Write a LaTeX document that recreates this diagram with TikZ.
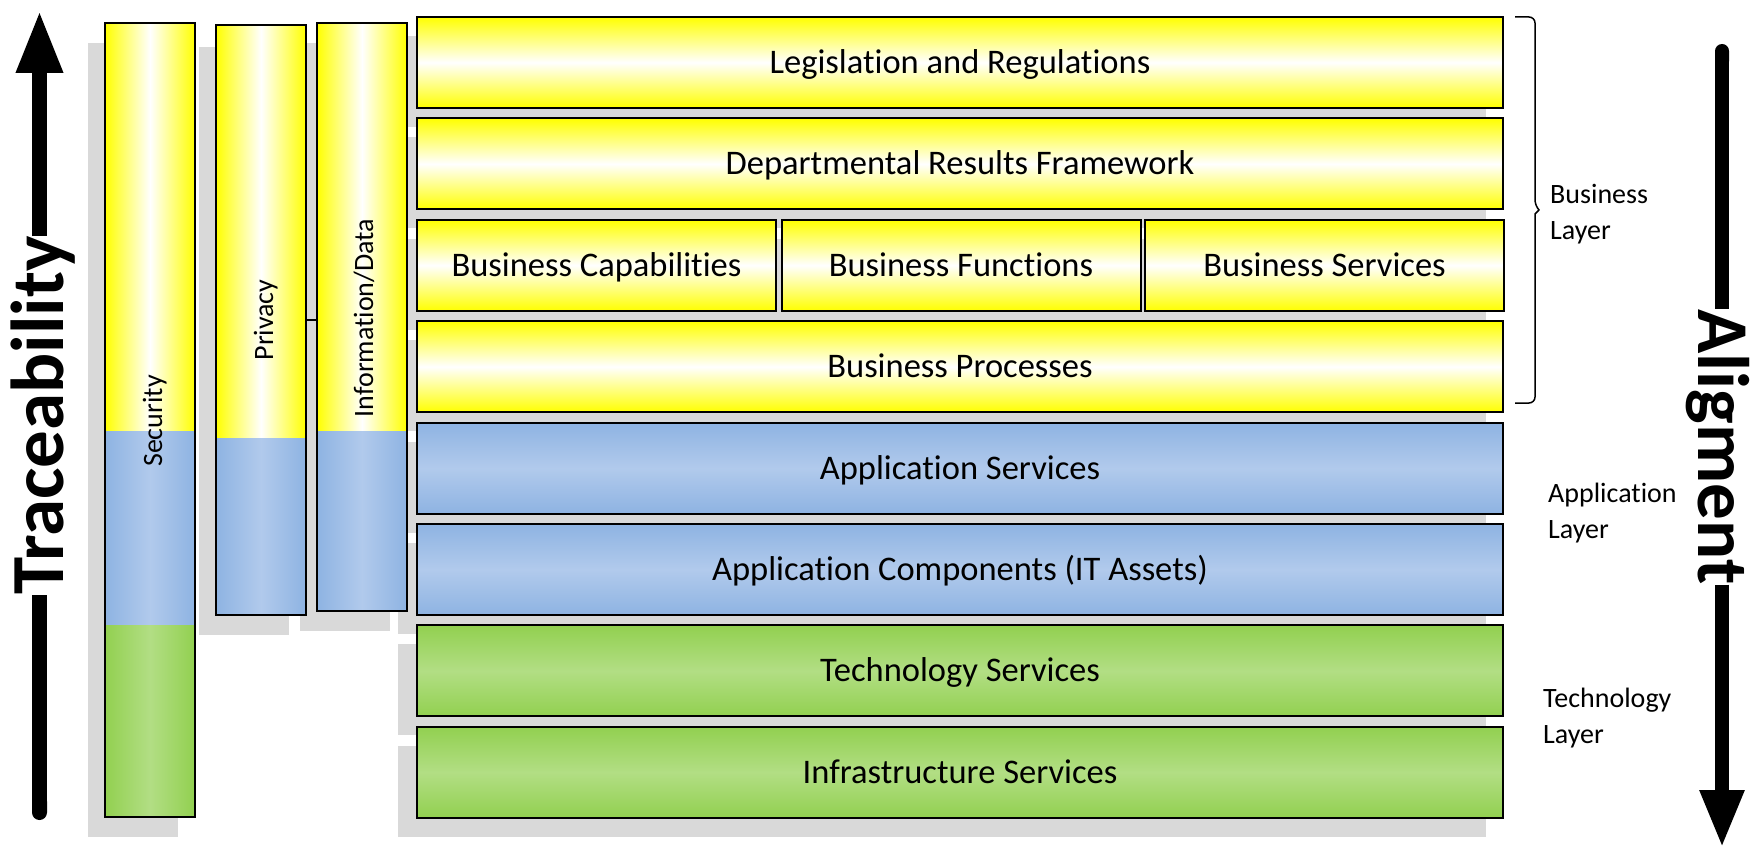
\documentclass[tikz,border=0pt]{standalone}
\usepackage{fontspec}
\setmainfont{Carlito}[Ligatures={NoCommon,NoContextual,NoRequired}, RawFeature={-liga;-clig;-calt;-dlig}]
\usetikzlibrary{arrows.meta}
\definecolor{ylw}{HTML}{FFFF00}
\definecolor{blE}{HTML}{8EB3E2}
\definecolor{blM}{HTML}{B1CAEC}
\definecolor{grE}{HTML}{92D050}
\definecolor{grM}{HTML}{B2DE84}
\definecolor{shd}{HTML}{D9D9D9}
\tikzset{
  shadowfill/.style={fill=shd},
  mainbox/.style={draw=black, line width=2pt, minimum height=91pt, inner sep=0pt,
    text height=22pt, text depth=0pt, font=\fontsize{34.5}{40}\selectfont},
  ybox/.style={mainbox, top color=ylw, bottom color=ylw, middle color=white},
  bbox/.style={mainbox, top color=blE, bottom color=blE, middle color=blM},
  gbox/.style={mainbox, top color=grE, bottom color=grE, middle color=grM},
  colY/.style={left color=ylw, right color=ylw, middle color=white},
  colB/.style={left color=blE, right color=blE, middle color=blM},
  colG/.style={left color=grE, right color=grE, middle color=grM},
  colout/.style={draw=black, line width=2pt, minimum width=90pt, inner sep=0pt},
  collbl/.style={rotate=90, anchor=base, inner sep=0pt, font=\fontsize{28}{32}\selectfont},
  sidelbl/.style={anchor=west, align=left, inner sep=0pt, font=\fontsize{28}{36}\selectfont},
  biglbl/.style={anchor=base, inner sep=0pt, font=\fontsize{75}{80}\selectfont\bfseries},
}
\begin{document}
\begin{tikzpicture}[x=1pt,y=-1pt]
\useasboundingbox (0,0) rectangle (1750,850);
% shadows
\fill[shadowfill] (88,43) rectangle (178,837);
\fill[shadowfill] (199,47) rectangle (289,635);
\fill[shadowfill] (300,43) rectangle (390,631);
\foreach \t in {17,118.4,219.8,321.2,422.6,524,625.4,726.8}
  \fill[shadowfill] (398,\t+19) rectangle (1486,\t+110);
% columns
\shade[colY] (105,23) rectangle (195,431);
\shade[colB] (105,431) rectangle (195,625);
\shade[colG] (105,625) rectangle (195,817);
\shade[colY] (216,25) rectangle (306,438);
\shade[colB] (216,438) rectangle (306,615);
\shade[colY] (317,23) rectangle (407,431);
\shade[colB] (317,431) rectangle (407,611);
\node[colout, minimum height=794pt] (secbox) at (150,420) {};
\node[colout, minimum height=590pt] (privbox) at (261,320) {};
\node[colout, minimum height=588pt] (infobox) at (362,317) {};
\node[collbl] (seclbl) at (162,421) {Security};
\node[collbl] (privlbl) at (273,320) {Privacy};
\node[collbl] (infolbl) at (373,318) {Information/Data};
\draw[line width=1.5pt] (privbox.east) -- (infobox.west |- privbox.east);
% main boxes
\node[ybox, minimum width=1086pt] (legis) at (960,62.5) {Legislation and Regulations};
\node[ybox, minimum width=1086pt] (drf) at (960,163.9) {Departmental Results Framework};
\node[ybox, minimum width=359pt] (bcap) at (596.5,265.3) {Business Capabilities};
\node[ybox, minimum width=359pt] (bfun) at (961,265.3) {Business Functions};
\node[ybox, minimum width=359pt] (bser) at (1324.5,265.3) {Business Services};
\node[ybox, minimum width=1086pt] (bproc) at (960,366.7) {Business Processes};
\node[bbox, minimum width=1086pt] (appser) at (960,468.1) {Application Services};
\node[bbox, minimum width=1086pt] (appcomp) at (960,569.5) {Application Components (IT Assets)};
\node[gbox, minimum width=1086pt] (techser) at (960,670.9) {Technology Services};
\node[gbox, minimum width=1086pt] (infra) at (960,772.3) {Infrastructure Services};
% brace
\draw[line width=1.5pt, rounded corners=6pt] (1515,17) -- (1535,17) -- (1535,206)
  [sharp corners] -- (1539,210) -- (1535,214) [rounded corners=6pt] -- (1535,403) -- (1515,403);
% side labels
\node[sidelbl] (busl) at (1550,214) {Business\\Layer};
\node[sidelbl] (appl) at (1548,513) {Application\\Layer};
\node[sidelbl] (techl) at (1543,718) {Technology\\Layer};
% Traceability arrow
\node[biglbl, rotate=90] (trace) at (63,415.5) {Traceability};
\coordinate (tbot) at (39.5,820);
\coordinate (ttop) at (39.5,10);
\draw[line width=15pt, {Round Cap[]}-] (tbot) -- (tbot |- trace.west);
\draw[line width=15pt, -{Triangle[length=63pt,width=43pt]}] (ttop |- trace.east) -- (ttop);
% Aligment arrow
\node[biglbl, rotate=-90, font=\fontsize{73}{78}\selectfont\bfseries] (align) at (1698,447) {Aligment};
\coordinate (atop) at (1722,44);
\coordinate (abot) at (1722,848);
\draw[line width=14pt, {Round Cap[]}-] (atop) -- (atop |- align.west);
\draw[line width=14pt, -{Triangle[length=58pt,width=41pt]}] (abot |- align.east) -- (abot);
\end{tikzpicture}
\end{document}
